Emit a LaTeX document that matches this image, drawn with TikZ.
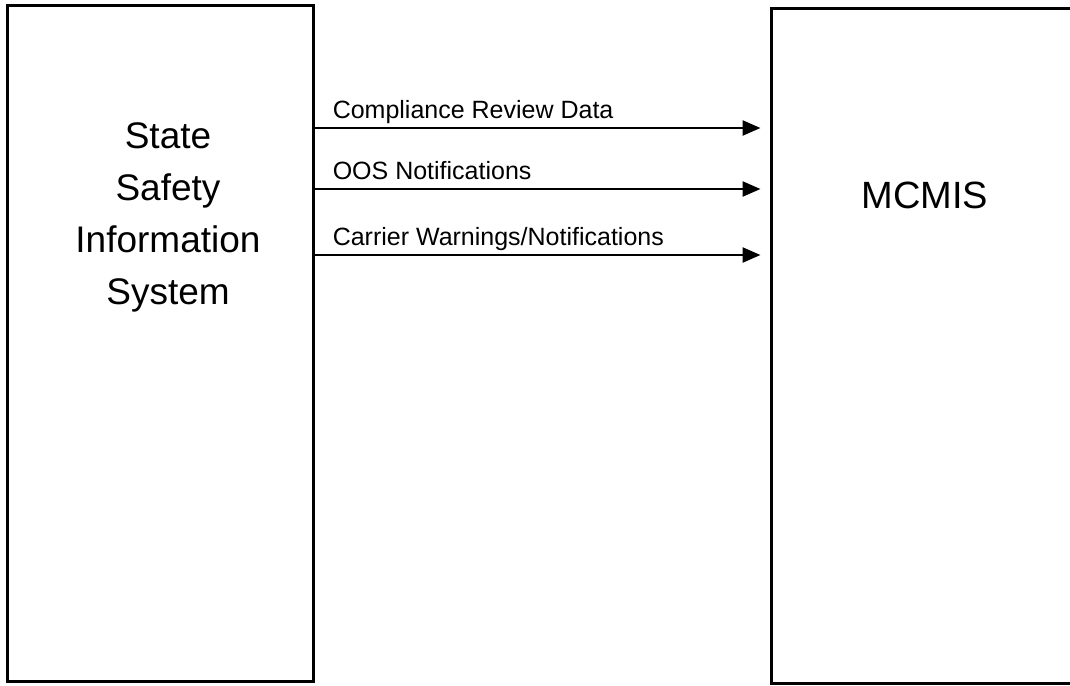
\documentclass[tikz,border=0pt]{standalone}
\usepackage{fontspec}
\setmainfont{Liberation Sans}
\usetikzlibrary{positioning,arrows.meta}
\tikzset{
  sysbox/.style={draw=black,line width=3pt,shape=rectangle,inner sep=0pt},
  bigtxt/.style={align=center,font=\fontsize{37}{52}\selectfont},
  flow/.style={draw=black,line width=2.5pt,-{Triangle[length=18pt,width=15pt]},shorten >=9pt},
  lbl/.style={anchor=base west,xshift=17pt,yshift=10pt,font=\fontsize{25}{28}\selectfont,inner sep=0pt}
 }
\begin{document}
\begin{tikzpicture}[x=1pt,y=-1pt]
    \clip (0,0) rectangle (1070,685);
    \node[sysbox,minimum width=306pt,minimum height=675pt] (ssis) at (160,343.5) {};
    \node[sysbox,minimum width=319pt,minimum height=674pt] (mcmis) at (930.5,346) {};
    \node[bigtxt] (ssistxt) at (168,217) {State\\Safety\\Information\\System};
    \node[bigtxt,font=\fontsize{38}{46}\selectfont] (mcmistxt) at (925,195) {MCMIS};
    \draw[flow] (ssis.east |- 0,128) -- (mcmis.west |- 0,128) node[lbl,pos=0] {Compliance Review Data};
    \draw[flow] (ssis.east |- 0,189) -- (mcmis.west |- 0,189) node[lbl,pos=0] {OOS Notifications};
    \draw[flow] (ssis.east |- 0,255) -- (mcmis.west |- 0,255) node[lbl,pos=0] {Carrier Warnings/Notifications};
\end{tikzpicture}
\end{document}
